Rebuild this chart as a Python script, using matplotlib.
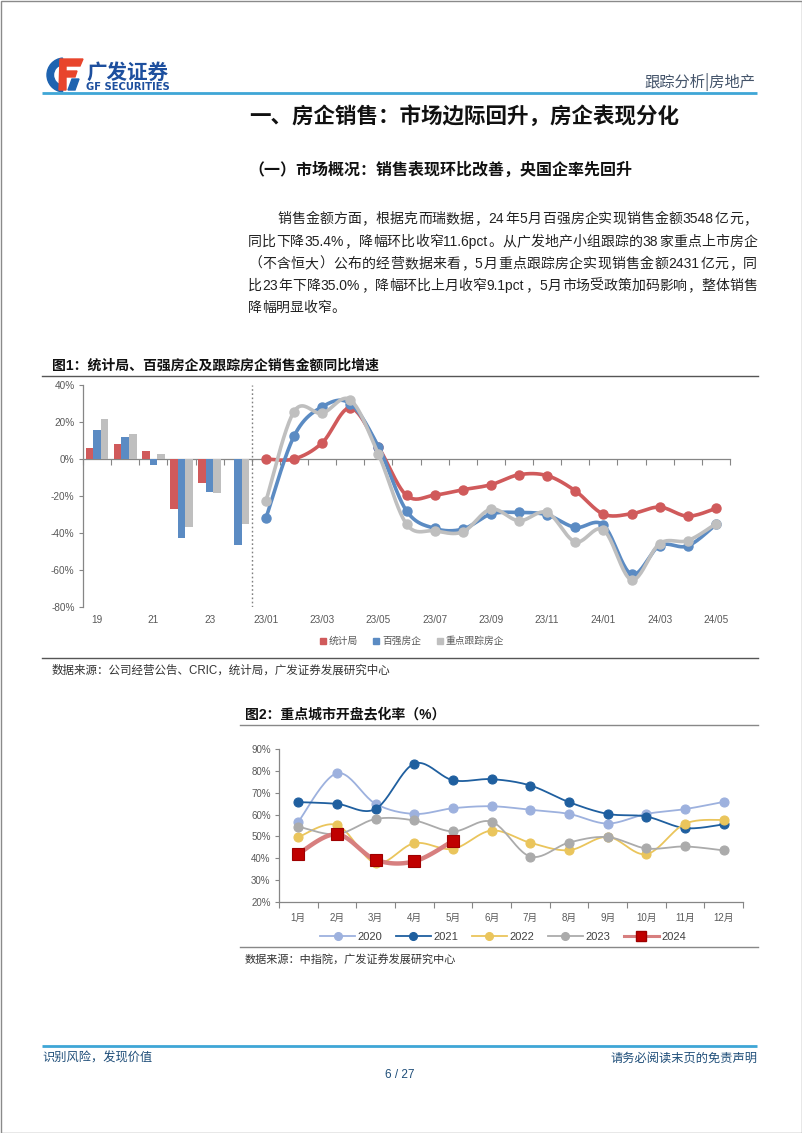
import numpy as np
import matplotlib
matplotlib.use('Agg')
import matplotlib.pyplot as plt
from matplotlib.lines import Line2D
from matplotlib.patches import Rectangle, Wedge, Polygon

plt.rcParams['font.family'] = ['Liberation Sans', 'Noto Sans CJK SC', 'DejaVu Sans']

W, H = 802, 1133

# ---------------- data: chart 1 ----------------
bar_years = ['19', '20', '21', '22', '23', '24']
bar_nbs = [6.1, 8.3, 4.5, -27.0, -12.8, np.nan]
bar_top100 = [15.7, 12.1, -3.2, -42.8, -17.9, -46.4]
bar_tracked = [21.7, 13.7, 2.7, -37.0, -18.6, -35.4]

months1 = ['23/01', '23/02', '23/03', '23/04', '23/05', '23/06', '23/07', '23/08',
           '23/09', '23/10', '23/11', '23/12', '24/01', '24/02', '24/03', '24/04', '24/05']
line_nbs = [0.0, 0.0, 8.7, 27.6, 6.5, -19.7, -19.5, -16.6, -13.9, -8.5, -9.0,
            -17.2, -29.8, -29.6, -26.0, -30.9, -26.7]
line_top100 = [-32.1, 12.3, 28.2, 30.0, 6.7, -28.0, -37.5, -37.9, -29.8, -28.9, -30.2,
               -37.0, -35.7, -62.3, -46.8, -47.0, -35.4]
line_tracked = [-22.9, 25.6, 24.7, 32.0, 2.7, -35.2, -38.8, -39.4, -27.1, -33.4, -28.9,
                -44.8, -38.3, -65.3, -45.7, -44.1, -35.0]
series1_names = ['统计局', '百强房企', '重点跟踪房企']

# ---------------- data: chart 2 ----------------
months2 = ['1月', '2月', '3月', '4月', '5月', '6月', '7月', '8月', '9月', '10月', '11月', '12月']
rate_2020 = [56.7, 78.9, 64.9, 60.3, 62.9, 63.8, 62.2, 60.3, 55.9, 60.3, 62.5, 65.8]
rate_2021 = [65.7, 64.9, 62.6, 83.3, 75.7, 76.2, 73.3, 65.7, 60.3, 59.1, 53.8, 55.5]
rate_2022 = [49.7, 55.2, 37.8, 46.9, 44.3, 52.7, 47.1, 43.7, 49.8, 41.9, 55.8, 57.6]
rate_2023 = [54.5, 51.0, 58.0, 57.3, 52.3, 56.7, 40.8, 47.2, 49.7, 44.5, 45.4, 43.6]
rate_2024 = [42.1, 51.0, 39.3, 38.6, 48.0]
years2 = ['2020', '2021', '2022', '2023', '2024']


def smooth(xs, ys, n=24):
    P = np.column_stack([np.asarray(xs, float), np.asarray(ys, float)])
    out = []
    for i in range(len(P) - 1):
        p0 = P[i - 1] if i > 0 else P[i]
        p1, p2 = P[i], P[i + 1]
        p3 = P[i + 2] if i + 2 < len(P) else P[i + 1]
        t = np.linspace(0, 1, n, endpoint=(i == len(P) - 2))[:, None]
        c1 = p1 + (p2 - p0) / 6.0
        c2 = p2 - (p3 - p1) / 6.0
        out.append((1 - t) ** 3 * p1 + 3 * (1 - t) ** 2 * t * c1 + 3 * (1 - t) * t ** 2 * c2 + t ** 3 * p2)
    return np.vstack(out)


fig = plt.figure(figsize=(W / 100, H / 100), dpi=100)
fig.patch.set_facecolor('white')

# page overlay in pixel coordinates
pg = fig.add_axes([0, 0, 1, 1], zorder=0)
pg.set_xlim(0, W)
pg.set_ylim(H, 0)
pg.axis('off')

pg.add_patch(Rectangle((0.5, 0.5), W - 1, H - 1, fill=False, ec='#8a8a8a', lw=1.0))

# logo
pg.add_patch(Wedge((64, 75), 17, 95, 265, width=6.5, color='#1E63B0'))
pg.add_patch(Polygon([(60, 59), (83, 59), (80, 66), (66, 66), (66, 71), (77, 71), (75, 77),
                      (66, 77), (66, 90), (59, 90)], closed=True, color='#E8452C'))
pg.add_patch(Polygon([(72, 79), (79, 79), (75, 90), (68, 90)], closed=True, color='#1E63B0'))
pg.text(86, 72, '广发证券', fontsize=14.8, fontweight='bold', color='#1D4F9E',
        family=['Noto Sans CJK SC'], ha='left', va='center')
pg.text(86, 87, 'GF SECURITIES', fontsize=7.2, fontweight='bold', color='#1D4F9E',
        family=['DejaVu Sans'], ha='left', va='center')
pg.text(755, 82, '跟踪分析|房地产', fontsize=11, color='#44546A', ha='right', va='center',
        family=['Noto Sans CJK SC'])
pg.plot([42, 757], [93, 93], color='#3FA6D6', lw=2.0, solid_capstyle='butt')

# headings
pg.text(464, 116, '一、房企销售：市场边际回升，房企表现分化', fontsize=15.5, fontweight='bold',
        color='#111111', ha='center', va='center', family=['Noto Sans CJK SC'])
pg.text(248, 170, '（一）市场概况：销售表现环比改善，央国企率先回升', fontsize=11.5, fontweight='bold',
        color='#111111', ha='left', va='center', family=['Noto Sans CJK SC'])

# body text, justified
body_lines = [
    '销售金额方面，根据克而瑞数据，24年5月百强房企实现销售金额3548亿元，',
    '同比下降35.4%，降幅环比收窄11.6pct。从广发地产小组跟踪的38家重点上市房企',
    '（不含恒大）公布的经营数据来看，5月重点跟踪房企实现销售金额2431亿元，同',
    '比23年下降35.0%，降幅环比上月收窄9.1pct，5月市场受政策加码影响，整体销售',
    '降幅明显收窄。',
]
body_y = [219, 242, 264, 286, 308]
body_x0 = [277, 248, 248, 248, 248]
renderer = fig.canvas.get_renderer()
fs_body = 10
em = fs_body * 100 / 72.0


def tokens_of(s):
    toks, cur = [], ''
    for ch in s:
        if ord(ch) < 128:
            cur += ch
        else:
            if cur:
                toks.append(cur)
                cur = ''
            toks.append(ch)
    if cur:
        toks.append(cur)
    return toks


for li, (s, y, x0) in enumerate(zip(body_lines, body_y, body_x0)):
    toks = tokens_of(s)
    widths = []
    for tk in toks:
        if ord(tk[0]) < 128:
            tt = pg.text(0, 0, tk, fontsize=fs_body, family=['Liberation Sans'])
            widths.append(tt.get_window_extent(renderer).width + 1.0)
            tt.remove()
        else:
            widths.append(em)
    total = sum(widths)
    extra = (757 - x0 - total) / (len(toks) - 1) if li < 4 else 0.0
    x = x0
    for tk, w in zip(toks, widths):
        fam = ['Liberation Sans'] if ord(tk[0]) < 128 else ['Noto Sans CJK SC']
        pg.text(x, y, tk, fontsize=fs_body, color='#222222', family=fam, ha='left', va='center')
        x += w + extra

# chart 1 frame
pg.text(52, 366, '图1：统计局、百强房企及跟踪房企销售金额同比增速', fontsize=10, fontweight='bold',
        color='#111111', ha='left', va='center', family=['Liberation Sans', 'Noto Sans CJK SC'])
pg.plot([42, 758], [375.5, 375.5], color='#555555', lw=1.0)
pg.plot([42, 758], [658, 658], color='#555555', lw=1.0)
pg.text(52, 671, '数据来源：公司经营公告、CRIC，统计局，广发证券发展研究中心', fontsize=8.3,
        color='#333333', ha='left', va='center', family=['Liberation Sans', 'Noto Sans CJK SC'])

# chart 2 frame
pg.text(245, 714, '图2：重点城市开盘去化率（%）', fontsize=10, fontweight='bold',
        color='#111111', ha='left', va='center', family=['Liberation Sans', 'Noto Sans CJK SC'])
pg.plot([240, 758], [725, 725], color='#888888', lw=1.0)
pg.plot([240, 758], [947, 947], color='#888888', lw=1.0)
pg.text(245, 959, '数据来源：中指院，广发证券发展研究中心', fontsize=8,
        color='#333333', ha='left', va='center', family=['Liberation Sans', 'Noto Sans CJK SC'])

# footer
pg.plot([42, 757], [1046, 1046], color='#3FA6D6', lw=2.0, solid_capstyle='butt')
pg.text(42, 1058, '识别风险，发现价值', fontsize=8.8, color='#1F4E79', ha='left', va='center',
        family=['Noto Sans CJK SC'])
pg.text(757, 1058, '请务必阅读末页的免责声明', fontsize=8.8, color='#1F4E79', ha='right', va='center',
        family=['Noto Sans CJK SC'])
pg.text(400, 1075, '6 / 27', fontsize=8.5, color='#1F4E79', ha='center', va='center',
        family=['Liberation Sans'])

# ---------------- chart 1 ----------------
c_red, c_blue, c_gray = '#D05A5B', '#5B8BC3', '#BFBFBF'
ax1 = fig.add_axes([83 / W, 1 - 607 / H, (730 - 83) / W, (607 - 385) / H], zorder=2)
ax1.set_facecolor('none')
nb = len(bar_years)
xb = np.arange(nb)
bw = 0.27
ax1.bar(xb - bw, bar_nbs, bw, color=c_red, zorder=2)
ax1.bar(xb, bar_top100, bw, color=c_blue, zorder=2)
ax1.bar(xb + bw, bar_tracked, bw, color=c_gray, zorder=2)

xl = np.arange(nb, nb + len(months1))
for vals, col, z in [(line_nbs, c_red, 3), (line_top100, c_blue, 4), (line_tracked, c_gray, 5)]:
    sm = smooth(xl, vals)
    ax1.plot(sm[:, 0], sm[:, 1], color=col, lw=2.6, zorder=z, solid_capstyle='round')
    ax1.plot(xl, vals, 'o', color=col, ms=6.5, zorder=z)

ax1.axvline(nb - 0.5, color='#7F7F7F', lw=1.0, ls=(0, (1.2, 1.8)), zorder=1)
ax1.set_xlim(-0.5, nb + len(months1) - 0.5)
ax1.set_ylim(-80, 40)
ax1.set_yticks(np.arange(-80, 41, 20))
ax1.set_yticklabels([f'{v}%' for v in range(-80, 41, 20)])
all_labels = bar_years + months1
ax1.set_xticks(np.arange(0, len(all_labels), 2))
ax1.set_xticklabels(all_labels[::2])
for sp in ['top', 'right', 'bottom']:
    ax1.spines[sp].set_visible(False)
ax1.spines['left'].set_color('#868686')
ax1.spines['left'].set_linewidth(0.9)
ax1.tick_params(axis='y', direction='out', length=3, width=0.8, color='#868686',
                labelsize=7.2, labelcolor='#595959', pad=3)
ax1.tick_params(axis='x', length=0, labelsize=7.2, labelcolor='#595959', pad=6)
sec = ax1.secondary_xaxis(80 / 120)
sec.set_alignment('bottom')
sec.set_xticks(np.arange(-0.5, len(all_labels), 1))
sec.set_xticklabels([])
sec.tick_params(direction='out', length=4, width=0.8, color='#868686')
sec.spines['bottom'].set_color('#868686')
sec.spines['bottom'].set_linewidth(0.9)

h1 = [Line2D([], [], ls='none', marker='s', ms=4.5, color=c) for c in (c_red, c_blue, c_gray)]
fig.legend(h1, series1_names, loc='center', bbox_to_anchor=(412 / W, 1 - 641 / H), ncol=3,
           frameon=False, prop={'family': ['Noto Sans CJK SC'], 'size': 7},
           handlelength=0.6, handletextpad=0.3, columnspacing=1.6, labelcolor='#595959')

# ---------------- chart 2 ----------------
ax2 = fig.add_axes([279 / W, 1 - 902 / H, (743 - 279) / W, (902 - 749) / H], zorder=2)
ax2.set_facecolor('none')
x2 = np.arange(len(months2))
styles = [
    (rate_2020, '#9DB1DE', 1.3, 'o', 6.5, '#9DB1DE', '#9DB1DE'),
    (rate_2021, '#1F5F9F', 1.3, 'o', 6.5, '#1F5F9F', '#1F5F9F'),
    (rate_2022, '#EAC55C', 1.3, 'o', 6.5, '#EAC55C', '#EAC55C'),
    (rate_2023, '#ABABAB', 1.3, 'o', 6.5, '#ABABAB', '#ABABAB'),
    (rate_2024, '#D77F7F', 3.2, 's', 8.5, '#C00000', '#9E0000'),
]
h2 = []
for i, (vals, lc, lw, mk, ms, mfc, mec) in enumerate(styles):
    xx = x2[:len(vals)]
    sm = smooth(xx, vals)
    ax2.plot(sm[:, 0], sm[:, 1], color=lc, lw=lw, zorder=2 + i)
    ax2.plot(xx, vals, ls='none', marker=mk, ms=ms, mfc=mfc, mec=mec, mew=0.8, zorder=2 + i)
    h2.append(Line2D([], [], color=lc, lw=min(lw, 2.2), marker=mk, ms=ms * 0.85, mfc=mfc, mec=mec))

ax2.set_xlim(-0.5, len(months2) - 0.5)
ax2.set_ylim(20, 90)
ax2.set_yticks(np.arange(20, 91, 10))
ax2.set_yticklabels([f'{v}%' for v in range(20, 91, 10)])
ax2.set_xticks(x2)
ax2.set_xticklabels(months2, family=['Liberation Sans', 'Noto Sans CJK SC'])
ax2.set_xticks(np.arange(-0.5, len(months2), 1), minor=True)
for sp in ['top', 'right']:
    ax2.spines[sp].set_visible(False)
for sp in ['left', 'bottom']:
    ax2.spines[sp].set_color('#868686')
    ax2.spines[sp].set_linewidth(0.9)
ax2.tick_params(axis='y', direction='out', length=3, width=0.8, color='#868686',
                labelsize=7, labelcolor='#595959', pad=3)
ax2.tick_params(axis='x', which='major', length=0, labelsize=7, labelcolor='#595959', pad=8)
ax2.tick_params(axis='x', which='minor', direction='out', length=4, width=0.8, color='#868686')

fig.legend(h2, years2, loc='center', bbox_to_anchor=(503 / W, 1 - 937 / H), ncol=5,
           frameon=False, prop={'family': ['Liberation Sans'], 'size': 8},
           handlelength=3.2, handletextpad=0.2, columnspacing=1.2, labelcolor='#404040')

fig.savefig('out.png', dpi=100, facecolor='white')
